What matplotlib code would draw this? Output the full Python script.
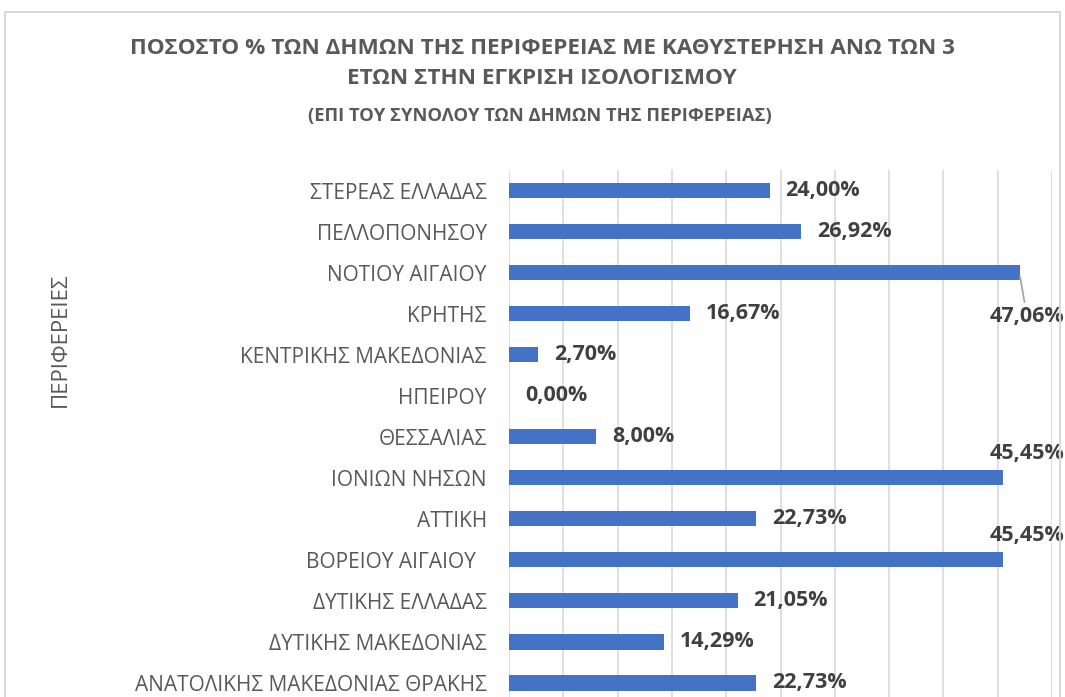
import matplotlib.pyplot as plt
import matplotlib.patches as patches
import numpy as np

regions = ['ΣΤΕΡΕΑΣ ΕΛΛΑΔΑΣ', 'ΠΕΛΛΟΠΟΝΗΣΟΥ', 'ΝΟΤΙΟΥ ΑΙΓΑΙΟΥ', 'ΚΡΗΤΗΣ',
           'ΚΕΝΤΡΙΚΗΣ ΜΑΚΕΔΟΝΙΑΣ', 'ΗΠΕΙΡΟΥ', 'ΘΕΣΣΑΛΙΑΣ', 'ΙΟΝΙΩΝ ΝΗΣΩΝ',
           'ΑΤΤΙΚΗ', 'ΒΟΡΕΙΟΥ ΑΙΓΑΙΟΥ  ', 'ΔΥΤΙΚΗΣ ΕΛΛΑΔΑΣ', 'ΔΥΤΙΚΗΣ ΜΑΚΕΔΟΝΙΑΣ',
           'ΑΝΑΤΟΛΙΚΗΣ ΜΑΚΕΔΟΝΙΑΣ ΘΡΑΚΗΣ']
values = [24.00, 26.92, 47.06, 16.67, 2.70, 0.00, 8.00, 45.45, 22.73, 45.45,
          21.05, 14.29, 22.73]
labels = ['24,00%', '26,92%', '47,06%', '16,67%', '2,70%', '0,00%', '8,00%',
          '45,45%', '22,73%', '45,45%', '21,05%', '14,29%', '22,73%']

plt.rcParams['font.family'] = ['Open Sans', 'DejaVu Sans']
grey = '#595959'
dark = '#404040'

fig = plt.figure(figsize=(10.65, 6.97), dpi=100)
ax = fig.add_axes([509 / 1065, -0.0093, 543 / 1065, 0.7654])

y = np.arange(len(regions))
ax.barh(y, values, height=0.37, color='#4472c4', zorder=3)

ax.set_xlim(0, 50)
ax.set_ylim(len(regions) - 0.5, -0.5)
ax.set_xticks(np.arange(0, 51, 5))
ax.set_xticklabels([])
ax.tick_params(axis='x', length=0)
ax.grid(axis='x', color='#d9d9d9', lw=1.2, zorder=0)
for s in ax.spines.values():
    s.set_visible(False)

ax.set_yticks(y)
ax.set_yticklabels(regions, fontsize=15, color=grey)
ax.tick_params(axis='y', length=0, pad=16)

for i, (v, lab) in enumerate(zip(values, labels)):
    if v > 47:
        ax.annotate(lab, xy=(v, i + 0.1), xytext=(7, -40),
                    textcoords='offset pixels', ha='center', va='center',
                    fontsize=15.5, fontweight='bold', color=dark,
                    annotation_clip=False,
                    arrowprops=dict(arrowstyle='-', color='#a6a6a6', lw=1.3,
                                    shrinkA=1, shrinkB=0))
    elif v > 45:
        ax.annotate(lab, xy=(v, i), xytext=(24, 24), textcoords='offset pixels',
                    ha='center', va='center', fontsize=15.5, fontweight='bold',
                    color=dark, annotation_clip=False)
    else:
        ax.annotate(lab, xy=(v, i), xytext=(16, 0), textcoords='offset pixels',
                    ha='left', va='center', fontsize=15.5, fontweight='bold',
                    color=dark)

fig.text(60 / 1065, 1 - 340 / 697, 'ΠΕΡΙΦΕΡΕΙΕΣ', rotation=90, ha='center',
         va='center', fontsize=16, color=grey)

fig.text(542 / 1065, 1 - 48 / 697,
         'ΠΟΣΟΣΤΟ % ΤΩΝ ΔΗΜΩΝ ΤΗΣ ΠΕΡΙΦΕΡΕΙΑΣ ΜΕ ΚΑΘΥΣΤΕΡΗΣΗ ΑΝΩ ΤΩΝ 3',
         ha='center', va='center', fontsize=16.2, fontweight='bold', color=grey)
fig.text(542 / 1065, 1 - 79 / 697, 'ΕΤΩΝ ΣΤΗΝ ΕΓΚΡΙΣΗ ΙΣΟΛΟΓΙΣΜΟΥ',
         ha='center', va='center', fontsize=16.2, fontweight='bold', color=grey)
fig.text(540 / 1065, 1 - 116 / 697, '(ΕΠΙ ΤΟΥ ΣΥΝΟΛΟΥ ΤΩΝ ΔΗΜΩΝ ΤΗΣ ΠΕΡΙΦΕΡΕΙΑΣ)',
         ha='center', va='center', fontsize=13.2, fontweight='bold', color=grey)

fig.patches.append(patches.Rectangle((5 / 1065, -0.1), 1055 / 1065, 1.1 - 12 / 697,
                                     transform=fig.transFigure, fill=False,
                                     edgecolor='#d9d9d9', lw=1.5))

fig.savefig('out.png', dpi=100)
